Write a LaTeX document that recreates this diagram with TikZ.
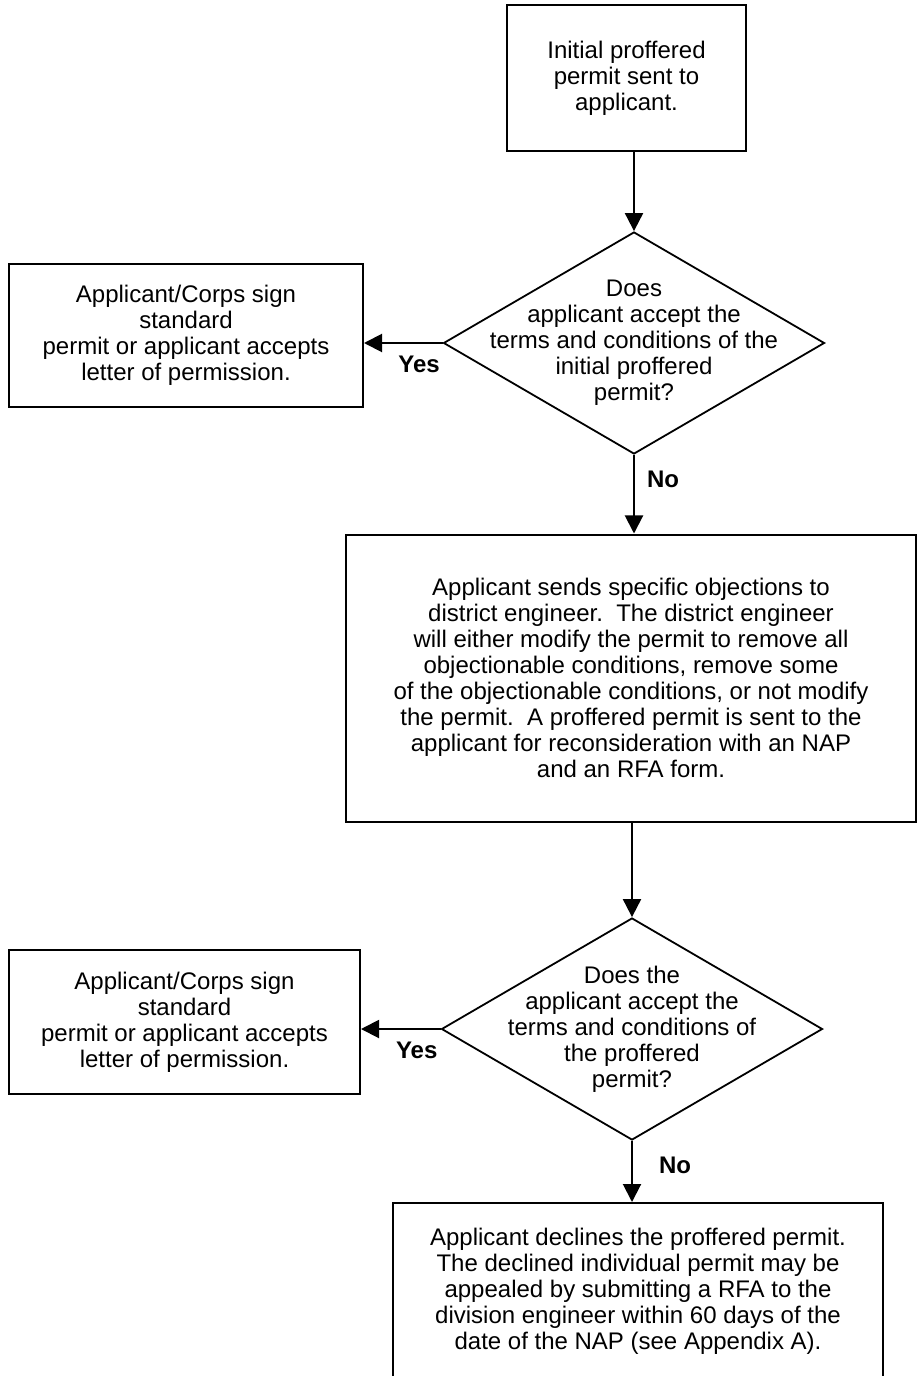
\documentclass[tikz,border=0pt]{standalone}
\usepackage{fontspec}
\setmainfont{Liberation Sans}
\usetikzlibrary{shapes.geometric, arrows.meta, positioning}

\begin{document}
\begin{tikzpicture}[
  x=0.5bp, y=-0.5bp,
  box/.style={draw, line width=1bp, align=center, inner sep=0pt, font=\fontsize{12bp}{13bp}\selectfont},
  choice/.style={draw, diamond, shape aspect=1.72, line width=0.9bp, align=center, inner sep=-12bp, minimum width=190.5bp, minimum height=111bp, font=\fontsize{12bp}{13bp}\selectfont},
  flow/.style={line width=1bp, -{Triangle[length=9bp, width=9bp]}},
  lbl/.style={font=\fontsize{12bp}{13bp}\selectfont\bfseries, inner sep=1bp}
]
  \useasboundingbox (0,0) rectangle (921,1376);

  \node[box, minimum width=119.5bp, minimum height=73bp] (init) at (626.5,78) {
    Initial proffered\\
    permit sent to\\
    applicant.
  };
  \node[choice] (q1) at (634,343) {
    Does\\
    applicant accept the\\
    terms and conditions of the\\
    initial proffered\\
    permit?
  };
  \node[box, minimum width=177bp, minimum height=71.5bp] (ok1) at (186,335.5) {
    Applicant/Corps sign\\
    standard\\
    permit or applicant accepts\\
    letter of permission.
  };
  \node[box, minimum width=285bp, minimum height=143.5bp] (obj) at (631,678) {
    Applicant sends specific objections to\\
    district engineer.\ \ The district engineer\\
    will either modify the permit to remove all\\
    objectionable conditions, remove some\\
    of the objectionable conditions, or not modify\\
    the permit.\ \ A proffered permit is sent to the\\
    applicant for reconsideration with an NAP\\
    and an RFA form.
  };
  \node[choice] (q2) at (632,1029) {
    Does the\\
    applicant accept the\\
    terms and conditions of\\
    the proffered\\
    permit?
  };
  \node[box, minimum width=175.5bp, minimum height=72bp] (ok2) at (184.5,1022) {
    Applicant/Corps sign\\
    standard\\
    permit or applicant accepts\\
    letter of permission.
  };
  \node[box, minimum width=245bp, minimum height=88.5bp] (decl) at (638,1291.5) {
    Applicant declines the proffered permit.\\
    The declined individual permit may be\\
    appealed by submitting a RFA to the\\
    division engineer within 60 days of the\\
    date of the NAP (see Appendix A).
  };

  \draw[flow] (q1.north |- init.south) -- (q1.north);
  \draw[flow] (q1.west) -- node[lbl, below=5bp, pos=0.3] {Yes} (q1.west -| ok1.east);
  \draw[flow] (q1.south) -- node[lbl, right=5bp, pos=0.31] {No} (q1.south |- obj.north);
  \draw[flow] (q2.north |- obj.south) -- (q2.north);
  \draw[flow] (q2.west) -- node[lbl, below=5bp, pos=0.3] {Yes} (q2.west -| ok2.east);
  \draw[flow] (q2.south) -- node[lbl, right=12bp, pos=0.4] {No} (q2.south |- decl.north);
\end{tikzpicture}
\end{document}
